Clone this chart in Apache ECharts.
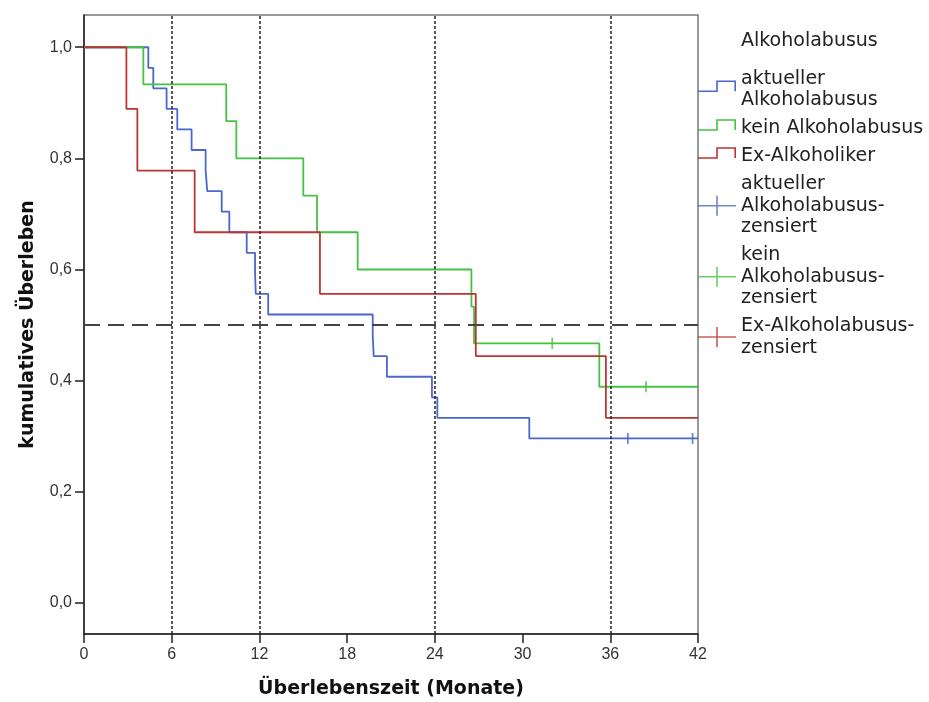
<!DOCTYPE html>
<html><head><meta charset="utf-8">
<script src="https://cdn.jsdelivr.net/npm/echarts@6/dist/echarts.min.js"></script>
<style>html,body{margin:0;padding:0;background:#fff}#c{width:929px;height:702px}</style>
</head><body><div id="c"></div>
<script>
// ---- data ----
const xTicks = [0, 6, 12, 18, 24, 30, 36, 42];
const yTicks = [0, 0.2, 0.4, 0.6, 0.8, 1.0];
const refLinesX = [6, 12, 24, 36];
const refLineY = 0.5;

const currentTimes = [0, 4.4, 4.74, 5.65, 6.38, 7.36, 8.32, 8.43, 9.42, 9.94, 11.13, 11.7, 11.75, 12.6, 19.75, 19.82, 20.72, 23.8, 24.17, 30.46, 42];
const currentSurv  = [1, 0.963, 0.926, 0.889, 0.852, 0.815, 0.778, 0.741, 0.704, 0.667, 0.630, 0.593, 0.556, 0.519, 0.481, 0.444, 0.407, 0.370, 0.333, 0.296, 0.296];
const currentCensTimes = [37.2, 41.63];
const currentCensSurv  = [0.296, 0.296];

const noneTimes = [0, 4.06, 9.73, 10.42, 15.0, 15.94, 18.72, 26.5, 26.68, 35.25, 42];
const noneSurv  = [1, 0.933, 0.867, 0.8, 0.733, 0.667, 0.6, 0.533, 0.467, 0.389, 0.389];
const noneCensTimes = [32.03, 38.44];
const noneCensSurv  = [0.467, 0.389];

const exTimes = [0, 2.9, 3.65, 7.57, 16.14, 26.8, 35.7, 42];
const exSurv  = [1, 0.889, 0.778, 0.667, 0.556, 0.444, 0.333, 0.333];
const exCensTimes = [];
const exCensSurv  = [];

const legendTitle = 'Alkoholabusus';
const seriesNames = ['aktueller Alkoholabusus', 'kein Alkoholabusus', 'Ex-Alkoholiker',
  'aktueller Alkoholabusus-zensiert', 'kein Alkoholabusus-zensiert', 'Ex-Alkoholabusus-zensiert'];
const legendLabels = ['aktueller\nAlkoholabusus', 'kein Alkoholabusus', 'Ex-Alkoholiker',
  'aktueller\nAlkoholabusus-\nzensiert', 'kein\nAlkoholabusus-\nzensiert', 'Ex-Alkoholabusus-\nzensiert'];
const colors = ['#4a68cc', '#44c244', '#bc3535'];

// ---- build ----
const pairs = (t, s) => t.map((v, i) => [v, s[i]]);
const stepIcon = 'path://M0 0 L0.01 0 L0 0.01 Z M0 20 L0.01 20 L0 19.99 Z M0 11 L18.2 11 L18.2 1 L38 1 L38 11.8 L36.4 11.8 L36.4 2.6 L19.8 2.6 L19.8 12.6 L0 12.6 Z';
const crossIcon = 'path://M0 9.2 L18.2 9.2 L18.2 0 L19.8 0 L19.8 9.2 L38 9.2 L38 10.8 L19.8 10.8 L19.8 20 L18.2 20 L18.2 10.8 L0 10.8 Z';
const FONT = 'DejaVu Sans';
const TICKFONT = 'Liberation Sans';

const kmLine = (name, data, color, extra) => Object.assign({
  type: 'line', name, data, step: 'end', symbol: 'none', color,
  lineStyle: { color, width: 1.8 }, itemStyle: { color }, z: 3
}, extra || {});
const censor = (name, data, color) => ({
  type: 'scatter', name, data, symbol: 'rect', symbolSize: [1.8, 11], color,
  itemStyle: { color }, z: 4
});

const option = {
  animation: false,
  title: { text: legendTitle, left: 741, top: 32, padding: 0,
    textStyle: { fontFamily: FONT, fontSize: 19, fontWeight: 'normal', color: '#222' } },
  grid: { left: 84, right: 231, top: 15, bottom: 68, show: true, borderColor: '#777', borderWidth: 1.5,
    containLabel: false, outerBoundsMode: 'none' },
  legend: {
    orient: 'vertical', left: 698, top: 68, padding: 0, itemGap: 6.5,
    itemWidth: 38, itemHeight: 20, selectedMode: false,
    itemStyle: { borderWidth: 0 },
    textStyle: { fontFamily: FONT, fontSize: 19, lineHeight: 21.5, color: '#222' },
    formatter: n => legendLabels[seriesNames.indexOf(n)],
    data: seriesNames.map((n, i) => ({ name: n, icon: i < 3 ? stepIcon : crossIcon }))
  },
  xAxis: {
    type: 'value', min: xTicks[0], max: xTicks[xTicks.length - 1], interval: 6,
    axisLine: { show: true, onZero: false, lineStyle: { color: '#222', width: 1.5 } },
    axisTick: { show: true, inside: false, length: 9, lineStyle: { color: '#222', width: 1.5 } },
    axisLabel: { margin: 13, fontFamily: TICKFONT, fontSize: 16, color: '#333' },
    splitLine: { show: false },
    name: 'Überlebenszeit (Monate)', nameLocation: 'middle', nameGap: 46,
    nameTextStyle: { fontFamily: FONT, fontWeight: 'bold', fontSize: 19, color: '#111' }
  },
  yAxis: {
    type: 'value', min: -0.056, max: 1.058,
    axisLine: { show: true, onZero: false, lineStyle: { color: '#222', width: 1.5 } },
    axisTick: { show: true, inside: false, length: 9, customValues: yTicks, lineStyle: { color: '#222', width: 1.5 } },
    axisLabel: { customValues: yTicks, margin: 12, fontFamily: TICKFONT, fontSize: 16, color: '#333',
      formatter: v => v.toFixed(1).replace('.', ',') },
    splitLine: { show: false },
    name: 'kumulatives Überleben', nameLocation: 'middle', nameGap: 46, nameRotate: 90,
    nameTextStyle: { fontFamily: FONT, fontWeight: 'bold', fontSize: 19, color: '#111' }
  },
  series: [
    kmLine(seriesNames[0], pairs(currentTimes, currentSurv), colors[0], {
      markLine: {
        silent: true, symbol: 'none', label: { show: false }, animation: false,
        data: refLinesX.map(x => ({ xAxis: x, lineStyle: { type: [3, 2], color: '#222', width: 1.5 } }))
          .concat([{ yAxis: refLineY, lineStyle: { type: [16, 8], color: '#444', width: 2 } }])
      }
    }),
    kmLine(seriesNames[1], pairs(noneTimes, noneSurv), colors[1]),
    kmLine(seriesNames[2], pairs(exTimes, exSurv), colors[2]),
    censor(seriesNames[3], pairs(currentCensTimes, currentCensSurv), colors[0]),
    censor(seriesNames[4], pairs(noneCensTimes, noneCensSurv), colors[1]),
    censor(seriesNames[5], pairs(exCensTimes, exCensSurv), colors[2])
  ]
};
const chart = echarts.init(document.getElementById('c'), null, { renderer: 'canvas' });
chart.setOption(option);
</script>
</body></html>
